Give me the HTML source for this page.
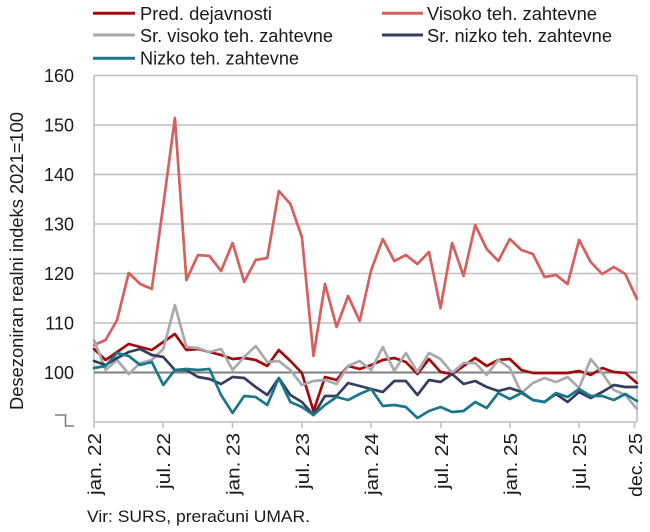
<!DOCTYPE html>
<html><head><meta charset="utf-8"><style>
html,body{margin:0;padding:0;background:#fff;}
svg{display:block;font-family:"Liberation Sans",Arial,sans-serif;}
</style></head><body>
<svg width="650" height="532" viewBox="0 0 650 532" xmlns="http://www.w3.org/2000/svg">
<!-- gridlines -->
<g stroke="#BFBFBF" stroke-width="1.6" fill="none">
<line x1="94" y1="75.5" x2="637" y2="75.5"/>
<line x1="94" y1="125" x2="637" y2="125"/>
<line x1="94" y1="174.5" x2="637" y2="174.5"/>
<line x1="94" y1="224" x2="637" y2="224"/>
<line x1="94" y1="273.5" x2="637" y2="273.5"/>
<line x1="94" y1="323" x2="637" y2="323"/>
<line x1="94" y1="75" x2="94" y2="422"/>
<line x1="637" y1="75" x2="637" y2="422"/>
<line x1="94" y1="422" x2="637" y2="422"/>
<line x1="94" y1="422" x2="94" y2="428"/>
<line x1="163" y1="422" x2="163" y2="428"/>
<line x1="232.5" y1="422" x2="232.5" y2="428"/>
<line x1="302" y1="422" x2="302" y2="428"/>
<line x1="371" y1="422" x2="371" y2="428"/>
<line x1="441" y1="422" x2="441" y2="428"/>
<line x1="510" y1="422" x2="510" y2="428"/>
<line x1="579" y1="422" x2="579" y2="428"/>
<line x1="634.5" y1="422" x2="634.5" y2="428"/>
</g>
<line x1="94" y1="372.5" x2="637" y2="372.5" stroke="#7F7F7F" stroke-width="2"/>
<polyline points="55,415 65.5,415 65.5,426 74,426" fill="none" stroke="#7F7F7F" stroke-width="1.6"/>

<!-- series -->
<g fill="none" stroke-width="2.7" stroke-linejoin="round" stroke-linecap="round">
<polyline stroke="#D65F5F" points="94,345 105.6,340 117.1,320 128.7,273 140.2,284 151.8,289 163.3,205 174.9,118 186.4,280 198,255 209.5,256 221.1,271 232.6,243 244.2,282 255.7,260 267.3,258 278.8,191 290.4,204 301.9,237 313.5,356 325,284 336.6,327 348.1,296 359.7,321 371.2,270 382.8,239 394.3,261 405.9,255 417.4,264 429,252 440.5,308 452.1,243 463.6,276 475.2,225 486.7,249 498.3,261 509.8,239 521.4,250 532.9,254 544.5,277 556,275 567.6,284 579.1,240 590.7,262 602.2,274 613.8,267 625.3,274 636.9,299"/>
<polyline stroke="#A30B0B" points="94,349 105.6,360 117.1,352 128.7,344 140.2,347 151.8,350 163.3,342 174.9,334 186.4,350 198,349 209.5,352 221.1,355 232.6,359 244.2,358 255.7,360 267.3,366 278.8,350 290.4,361 301.9,373 313.5,411 325,377 336.6,380 348.1,366 359.7,369 371.2,365 382.8,360 394.3,358 405.9,362 417.4,374 429,359 440.5,372 452.1,374 463.6,366 475.2,358 486.7,366 498.3,360 509.8,359 521.4,370 532.9,373 544.5,373 556,373 567.6,373 579.1,371 590.7,375 602.2,368 613.8,372 625.3,373 636.9,383"/>
<polyline stroke="#A7AAAE" points="94,340 105.6,370 117.1,360 128.7,374 140.2,363 151.8,360 163.3,349 174.9,305 186.4,347 198,348 209.5,352 221.1,349 232.6,370 244.2,357 255.7,346 267.3,362 278.8,361 290.4,370 301.9,385 313.5,381 325,380 336.6,384 348.1,366 359.7,361 371.2,370 382.8,347 394.3,371 405.9,353 417.4,372 429,353 440.5,359 452.1,373 463.6,363 475.2,363 486.7,375 498.3,360 509.8,368 521.4,393 532.9,383 544.5,378 556,382 567.6,377 579.1,388 590.7,359 602.2,373 613.8,390 625.3,395 636.9,409"/>
<polyline stroke="#333F5E" points="94,361 105.6,365 117.1,358 128.7,352 140.2,349 151.8,355 163.3,357 174.9,370 186.4,370 198,377 209.5,379 221.1,384 232.6,377 244.2,378 255.7,387 267.3,395 278.8,378 290.4,395 301.9,402 313.5,415 325,396 336.6,396 348.1,383 359.7,386 371.2,389 382.8,392 394.3,381 405.9,381 417.4,395 429,380 440.5,382 452.1,374 463.6,384 475.2,381 486.7,387 498.3,391 509.8,388 521.4,392 532.9,400 544.5,402 556,394 567.6,402 579.1,392 590.7,398 602.2,392 613.8,385 625.3,387 636.9,387"/>
<polyline stroke="#1C778C" points="94,368 105.6,366 117.1,353 128.7,356 140.2,365 151.8,362 163.3,385 174.9,370 186.4,369 198,370 209.5,369 221.1,395 232.6,413 244.2,396 255.7,397 267.3,405 278.8,378 290.4,402 301.9,407 313.5,415 325,405 336.6,397 348.1,400 359.7,394 371.2,389 382.8,406 394.3,405 405.9,407 417.4,418 429,411 440.5,407 452.1,412 463.6,411 475.2,402 486.7,408 498.3,393 509.8,399 521.4,393 532.9,400 544.5,402 556,393 567.6,397 579.1,389 590.7,396 602.2,396 613.8,400 625.3,394 636.9,401"/>
</g>

<!-- legend -->
<g stroke-width="3">
<line x1="93" y1="13.3" x2="135" y2="13.3" stroke="#A30B0B"/>
<line x1="93" y1="35" x2="135" y2="35" stroke="#A7AAAE"/>
<line x1="93" y1="58.3" x2="135" y2="58.3" stroke="#1C778C"/>
<line x1="382" y1="13.3" x2="423" y2="13.3" stroke="#D65F5F"/>
<line x1="382" y1="35" x2="423" y2="35" stroke="#333F5E"/>
</g>
<g font-size="18" fill="#1a1a1a">
<text x="140" y="20" textLength="132" lengthAdjust="spacingAndGlyphs">Pred. dejavnosti</text>
<text x="140" y="42" textLength="193" lengthAdjust="spacingAndGlyphs">Sr. visoko teh. zahtevne</text>
<text x="140" y="64.5" textLength="159" lengthAdjust="spacingAndGlyphs">Nizko teh. zahtevne</text>
<text x="427" y="20" textLength="170" lengthAdjust="spacingAndGlyphs">Visoko teh. zahtevne</text>
<text x="427" y="42" textLength="185" lengthAdjust="spacingAndGlyphs">Sr. nizko teh. zahtevne</text>
</g>

<!-- y labels -->
<g font-size="18" fill="#1a1a1a" text-anchor="end">
<text x="74" y="82">160</text>
<text x="74" y="131.5">150</text>
<text x="74" y="181">140</text>
<text x="74" y="230.5">130</text>
<text x="74" y="280">120</text>
<text x="74" y="329.5">110</text>
<text x="74" y="379">100</text>
</g>
<text transform="translate(23,261) rotate(-90)" text-anchor="middle" font-size="18" fill="#1a1a1a" textLength="298" lengthAdjust="spacingAndGlyphs">Desezoniran realni indeks 2021=100</text>

<!-- x labels -->
<g font-size="18" fill="#1a1a1a" text-anchor="end">
<text transform="translate(101,433) rotate(-90)" textLength="62" lengthAdjust="spacingAndGlyphs">jan. 22</text>
<text transform="translate(170,433) rotate(-90)" textLength="56" lengthAdjust="spacingAndGlyphs">jul. 22</text>
<text transform="translate(239.5,433) rotate(-90)" textLength="62" lengthAdjust="spacingAndGlyphs">jan. 23</text>
<text transform="translate(309,433) rotate(-90)" textLength="56" lengthAdjust="spacingAndGlyphs">jul. 23</text>
<text transform="translate(378,433) rotate(-90)" textLength="62" lengthAdjust="spacingAndGlyphs">jan. 24</text>
<text transform="translate(448,433) rotate(-90)" textLength="56" lengthAdjust="spacingAndGlyphs">jul. 24</text>
<text transform="translate(517,433) rotate(-90)" textLength="62" lengthAdjust="spacingAndGlyphs">jan. 25</text>
<text transform="translate(586,433) rotate(-90)" textLength="56" lengthAdjust="spacingAndGlyphs">jul. 25</text>
<text transform="translate(642,433) rotate(-90)" textLength="64" lengthAdjust="spacingAndGlyphs">dec. 25</text>
</g>

<text x="87" y="522" font-size="17" fill="#1a1a1a" textLength="223" lengthAdjust="spacingAndGlyphs">Vir: SURS, preračuni UMAR.</text>
</svg>
</body></html>
